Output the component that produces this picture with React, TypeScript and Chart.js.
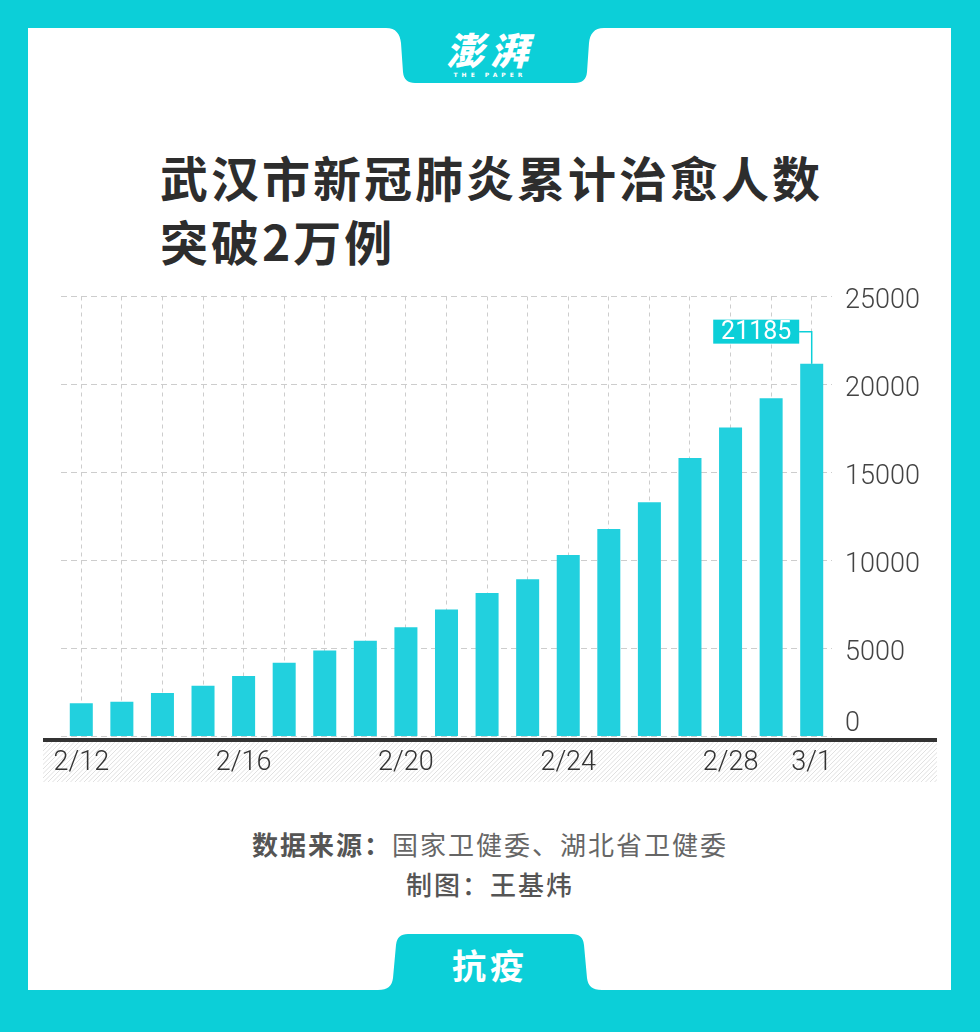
import React, { useEffect, useRef } from "react";
import { Chart, registerables } from "chart.js";

Chart.register(...registerables);

const categories = [
  "2/12", "2/13", "2/14", "2/15", "2/16", "2/17", "2/18", "2/19", "2/20", "2/21",
  "2/22", "2/23", "2/24", "2/25", "2/26", "2/27", "2/28", "2/29", "3/1",
];
const recovered = [
  1890, 1980, 2470, 2890, 3440, 4190, 4880, 5440, 6210, 7210,
  8150, 8930, 10310, 11790, 13310, 15820, 17550, 19220, 21185,
];
const xTickLabels = ["2/12", "2/16", "2/20", "2/24", "2/28", "3/1"];
const yTickValues = [0, 5000, 10000, 15000, 20000, 25000];
const highlightLabel = "3/1";
const highlightText = "21185";

const FRAME = "#0ccfd8";
const BAR = "#22d0de";
const GRID = "#cdcdcd";

const decorPlugin = {
  id: "decor",
  afterDraw(chart: any) {
    const ctx = chart.ctx as CanvasRenderingContext2D;
    const xs = chart.scales.x;
    const ys = chart.scales.y;
    const area = chart.chartArea;
    const y0 = ys.getPixelForValue(0);

    // hatched band under the axis
    const hx0 = 43, hx1 = 937;
    const hy0 = y0 + 5.5, hy1 = y0 + 45.5;
    ctx.save();
    ctx.beginPath();
    ctx.rect(hx0, hy0, hx1 - hx0, hy1 - hy0);
    ctx.clip();
    ctx.strokeStyle = "#e0e0e0";
    ctx.lineWidth = 1;
    const h = hy1 - hy0;
    for (let x = hx0 - h; x < hx1 + h; x += 4.5) {
      ctx.beginPath();
      ctx.moveTo(x, hy1);
      ctx.lineTo(x + h, hy0);
      ctx.stroke();
    }
    ctx.restore();

    // axis line
    ctx.save();
    ctx.strokeStyle = "#333333";
    ctx.lineWidth = 4;
    ctx.beginPath();
    ctx.moveTo(hx0, y0 + 3.5);
    ctx.lineTo(hx1, y0 + 3.5);
    ctx.stroke();
    ctx.restore();

    // x tick labels
    ctx.save();
    ctx.fillStyle = "#333333";
    ctx.font = "300 27px Roboto, 'Helvetica Neue', sans-serif";
    ctx.textAlign = "center";
    ctx.textBaseline = "middle";
    xTickLabels.forEach((lab) => {
      const idx = categories.indexOf(lab);
      if (idx < 0) return;
      ctx.fillText(lab, xs.getPixelForValue(idx), y0 + 27);
    });
    ctx.restore();

    // y tick labels
    ctx.save();
    ctx.fillStyle = "#444444";
    ctx.font = "300 27px Roboto, 'Helvetica Neue', sans-serif";
    ctx.textAlign = "left";
    ctx.textBaseline = "middle";
    yTickValues.forEach((v) => {
      const py = ys.getPixelForValue(v);
      const yy = v === 0 ? py - 12 : py + 5;
      ctx.fillText(String(v), area.right + 13, yy);
    });
    ctx.restore();

    // highlight annotation
    const hi = categories.indexOf(highlightLabel);
    if (hi >= 0) {
      const bx = xs.getPixelForValue(hi);
      const by = ys.getPixelForValue(recovered[hi]);
      const boxW = 86, boxH = 24;
      const boxR = bx - 12.5;
      const cy = by - 32;
      ctx.save();
      ctx.strokeStyle = FRAME;
      ctx.lineWidth = 1.5;
      ctx.beginPath();
      ctx.moveTo(boxR, cy);
      ctx.lineTo(bx, cy);
      ctx.lineTo(bx, by);
      ctx.stroke();
      ctx.fillStyle = FRAME;
      ctx.fillRect(boxR - boxW, cy - boxH / 2, boxW, boxH);
      ctx.fillStyle = "#ffffff";
      ctx.font = "400 25px Roboto, 'Helvetica Neue', sans-serif";
      ctx.textAlign = "center";
      ctx.textBaseline = "middle";
      ctx.fillText(highlightText, boxR - boxW / 2, cy + 1);
      ctx.restore();
    }
  },
};

function BarChart() {
  const ref = useRef<HTMLCanvasElement | null>(null);
  useEffect(() => {
    if (!ref.current) return;
    const chart = new Chart(ref.current, {
      type: "bar",
      data: {
        labels: categories,
        datasets: [
          {
            data: recovered,
            backgroundColor: BAR,
            borderWidth: 0,
            barPercentage: 0.567,
            categoryPercentage: 1,
          },
        ],
      },
      options: {
        responsive: false,
        animation: false,
        devicePixelRatio: 1,
        layout: { padding: { left: 61, right: 148, top: 26.5, bottom: 63.5 } },
        plugins: { legend: { display: false }, tooltip: { enabled: false } },
        scales: {
          x: {
            grid: { offset: false, drawTicks: false, color: GRID, lineWidth: 1 },
            border: { display: false, dash: [4, 4] },
            ticks: { display: false },
          },
          y: {
            position: "right",
            min: 0,
            max: 25000,
            ticks: { display: false, stepSize: 5000 },
            grid: { drawTicks: false, color: GRID, lineWidth: 1 },
            border: { display: false, dash: [6, 4] },
          },
        },
      } as any,
      plugins: [decorPlugin],
    });
    return () => chart.destroy();
  }, []);
  return (
    <canvas
      ref={ref}
      width={980}
      height={530}
      style={{ position: "absolute", left: 0, top: 270, width: 980, height: 530 }}
    />
  );
}

export default function App() {
  const cjk = "'Noto Sans CJK SC', 'Noto Sans', sans-serif";
  return (
    <div
      style={{
        position: "absolute",
        left: 0,
        top: 0,
        width: 980,
        height: 1032,
        background: FRAME,
        overflow: "hidden",
        fontFamily: cjk,
      }}
    >
      <div
        style={{
          position: "absolute",
          left: 28,
          top: 28,
          width: 923,
          height: 962,
          background: "#ffffff",
        }}
      />
      <svg
        width={980}
        height={1032}
        style={{ position: "absolute", left: 0, top: 0 }}
      >
        <path
          d="M 386 28 C 396 28 400 34 401 43 L 403 72 Q 404 83 415 83 L 575 83 Q 586 83 587 72 L 589 43 C 590 34 594 28 604 28 Z"
          fill={FRAME}
        />
        <path
          d="M 378 990 C 388 990 392 986 393 978 L 396 945 Q 397 934 408 934 L 572 934 Q 583 934 584 945 L 587 978 C 588 986 592 990 602 990 Z"
          fill={FRAME}
        />
      </svg>
      <div
        style={{
          position: "absolute",
          left: 0,
          top: 27,
          width: 980,
          textAlign: "center",
          color: "#ffffff",
          fontSize: 38,
          fontWeight: 900,
          lineHeight: "44px",
          letterSpacing: 6,
          fontStyle: "italic",
        }}
      >
        澎湃
      </div>
      <div
        style={{
          position: "absolute",
          left: 0,
          top: 71,
          width: 980,
          textAlign: "center",
          color: "#ffffff",
          fontFamily: "'DejaVu Sans', sans-serif",
          fontSize: 6,
          fontWeight: 700,
          lineHeight: "8px",
          letterSpacing: 4,
        }}
      >
        THE PAPER
      </div>
      <div
        style={{
          position: "absolute",
          left: 160,
          top: 144,
          width: 760,
          color: "#2d2d2d",
          fontSize: 48,
          fontWeight: 700,
          lineHeight: "64px",
          letterSpacing: 3,
        }}
      >
        武汉市新冠肺炎累计治愈人数
        <br />
        突破2万例
      </div>
      <BarChart />
      <div
        style={{
          position: "absolute",
          left: 0,
          top: 824,
          width: 980,
          textAlign: "center",
          fontSize: 26,
          lineHeight: "40px",
          letterSpacing: 2,
        }}
      >
        <div>
          <span style={{ fontWeight: 700, color: "#555555" }}>数据来源：</span>
          <span style={{ fontWeight: 400, color: "#666666" }}>国家卫健委、湖北省卫健委</span>
        </div>
        <div style={{ fontWeight: 500, color: "#555555" }}>制图：王基炜</div>
      </div>
      <div
        style={{
          position: "absolute",
          left: 0,
          top: 944,
          width: 980,
          textAlign: "center",
          color: "#ffffff",
          fontSize: 34,
          fontWeight: 700,
          lineHeight: "42px",
          letterSpacing: 4,
        }}
      >
        抗疫
      </div>
    </div>
  );
}
